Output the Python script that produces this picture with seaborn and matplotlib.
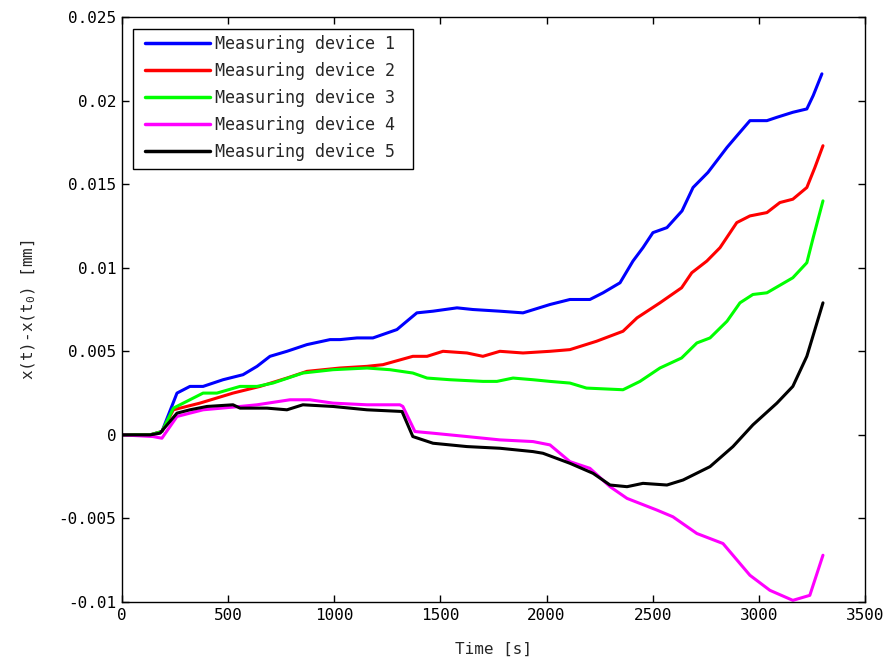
import numpy as np
import pandas as pd
import matplotlib
matplotlib.use("Agg")
import matplotlib.pyplot as plt
from matplotlib.patches import Rectangle
import seaborn as sns

# Displacement relative to the start value, per measuring device
t1 = [0, 132, 188, 259, 320, 382, 476, 570, 636, 697, 777, 871, 980, 1027, 1107, 1182,
      1295, 1323, 1389, 1465, 1578, 1653, 1780, 1889, 2016, 2110, 2204, 2266, 2346, 2407,
      2454, 2501, 2567, 2638, 2690, 2760, 2850, 2897, 2958, 3038, 3085, 3160, 3226, 3256, 3297]
y1 = [0, 0, 0.0002, 0.0025, 0.0029, 0.0029, 0.0033, 0.0036, 0.0041, 0.0047, 0.0050, 0.0054,
      0.0057, 0.0057, 0.0058, 0.0058, 0.0063, 0.0066, 0.0073, 0.0074, 0.0076, 0.0075, 0.0074,
      0.0073, 0.0078, 0.0081, 0.0081, 0.0085, 0.0091, 0.0104, 0.0112, 0.0121, 0.0124, 0.0134,
      0.0148, 0.0157, 0.0172, 0.0179, 0.0188, 0.0188, 0.0190, 0.0193, 0.0195, 0.0203, 0.0216]

t2 = [0, 132, 188, 242, 367, 523, 650, 777, 871, 1027, 1154, 1229, 1370, 1437, 1512, 1625,
      1700, 1780, 1889, 2016, 2110, 2235, 2360, 2426, 2534, 2636, 2684, 2755, 2817, 2896,
      2958, 3038, 3099, 3160, 3226, 3264, 3302]
y2 = [0, 0, 0.0002, 0.0015, 0.0019, 0.0025, 0.0029, 0.0034, 0.0038, 0.0040, 0.0041, 0.0042,
      0.0047, 0.0047, 0.0050, 0.0049, 0.0047, 0.0050, 0.0049, 0.0050, 0.0051, 0.0056, 0.0062,
      0.0070, 0.0079, 0.0088, 0.0097, 0.0104, 0.0112, 0.0127, 0.0131, 0.0133, 0.0139, 0.0141,
      0.0148, 0.0160, 0.0173]

t3 = [0, 132, 188, 242, 382, 447, 556, 636, 711, 852, 994, 1154, 1262, 1370, 1437, 1545,
      1700, 1766, 1842, 1936, 2016, 2110, 2188, 2360, 2440, 2534, 2636, 2708, 2770, 2850,
      2911, 2972, 3038, 3160, 3226, 3256, 3302]
y3 = [0, 0, 0.0002, 0.0016, 0.0025, 0.0025, 0.0029, 0.0029, 0.0031, 0.0037, 0.0039, 0.0040,
      0.0039, 0.0037, 0.0034, 0.0033, 0.0032, 0.0032, 0.0034, 0.0033, 0.0032, 0.0031, 0.0028,
      0.0027, 0.0032, 0.0040, 0.0046, 0.0055, 0.0058, 0.0068, 0.0079, 0.0084, 0.0085, 0.0094,
      0.0103, 0.0118, 0.0140]

t4 = [0, 146, 188, 259, 320, 382, 556, 636, 791, 885, 994, 1154, 1309, 1323, 1380, 1465,
      1625, 1780, 1936, 2016, 2110, 2204, 2299, 2379, 2520, 2595, 2708, 2831, 2958, 3052,
      3160, 3240, 3302]
y4 = [0, -0.0001, -0.0002, 0.0011, 0.0013, 0.0015, 0.0017, 0.0018, 0.0021, 0.0021, 0.0019,
      0.0018, 0.0018, 0.0017, 0.0002, 0.0001, -0.0001, -0.0003, -0.0004, -0.0006, -0.0016,
      -0.0020, -0.0031, -0.0038, -0.0045, -0.0049, -0.0059, -0.0065, -0.0084, -0.0093,
      -0.0099, -0.0096, -0.0072]

t5 = [0, 132, 179, 259, 320, 400, 523, 556, 683, 777, 852, 994, 1154, 1319, 1370, 1465,
      1625, 1780, 1936, 1983, 2110, 2219, 2299, 2379, 2454, 2567, 2643, 2770, 2878, 2972,
      3085, 3160, 3226, 3264, 3302]
y5 = [0, 0, 0.0001, 0.0013, 0.0015, 0.0017, 0.0018, 0.0016, 0.0016, 0.0015, 0.0018, 0.0017,
      0.0015, 0.0014, -0.0001, -0.0005, -0.0007, -0.0008, -0.0010, -0.0011, -0.0017, -0.0023,
      -0.0030, -0.0031, -0.0029, -0.0030, -0.0027, -0.0019, -0.0007, 0.0006, 0.0019, 0.0029,
      0.0047, 0.0063, 0.0079]

devices = ["Measuring device 1", "Measuring device 2", "Measuring device 3",
           "Measuring device 4", "Measuring device 5"]
colors = ["#0000ff", "#ff0000", "#00ff00", "#ff00ff", "#000000"]

xticks = [0, 500, 1000, 1500, 2000, 2500, 3000, 3500]
yticks = [-0.01, -0.005, 0, 0.005, 0.01, 0.015, 0.02, 0.025]
ytick_labels = ["-0.01", "-0.005", "0", "0.005", "0.01", "0.015", "0.02", "0.025"]

frames = []
for name, t, y in zip(devices, [t1, t2, t3, t4, t5], [y1, y2, y3, y4, y5]):
    frames.append(pd.DataFrame({"time": t, "disp": y, "device": name}))
df = pd.concat(frames, ignore_index=True)

sns.set_style("ticks")
plt.rcParams["font.family"] = ["DejaVu Sans Mono"]
plt.rcParams["mathtext.default"] = "regular"

fig = plt.figure(figsize=(8.86, 6.62), dpi=100)
ax = fig.add_axes([0.1377, 0.0906, 0.9763 - 0.1377, 0.9743 - 0.0906])

sns.lineplot(data=df, x="time", y="disp", hue="device", hue_order=devices,
             palette=colors, estimator=None, sort=False, linewidth=2.2, ax=ax)

ax.set_xlim(0, 3500)
ax.set_ylim(-0.01, 0.025)
ax.set_xticks(xticks)
ax.set_xticklabels([str(v) for v in xticks])
ax.set_yticks(yticks)
ax.set_yticklabels(ytick_labels)
ax.tick_params(direction="in", length=5, width=1, top=True, right=True,
               labelsize=11.5, colors="black", pad=4)
for sp in ax.spines.values():
    sp.set_visible(True)
    sp.set_linewidth(1.0)
    sp.set_color("black")

ax.set_xlabel("Time [s]", fontsize=11.5, labelpad=14)
ax.set_ylabel("x(t)-x(t$_0$) [mm]", fontsize=11.5, labelpad=15)

# Legend entries without their own frame; a separate box is drawn around them
leg = ax.legend(loc="upper left", bbox_to_anchor=(0.0228, 0.98), fontsize=12,
                handlelength=3.9, handletextpad=0.3, labelspacing=0.55,
                borderpad=0.35, borderaxespad=0, frameon=False)
for line in leg.get_lines():
    line.set_linewidth(2.5)
ax.add_patch(Rectangle((0.0148, 0.7402), 0.3769, 0.2393, transform=ax.transAxes,
                       facecolor="white", edgecolor="black", linewidth=1.0, zorder=4.9))
leg.set_zorder(5)

fig.savefig("out.png", dpi=100, facecolor="white")
